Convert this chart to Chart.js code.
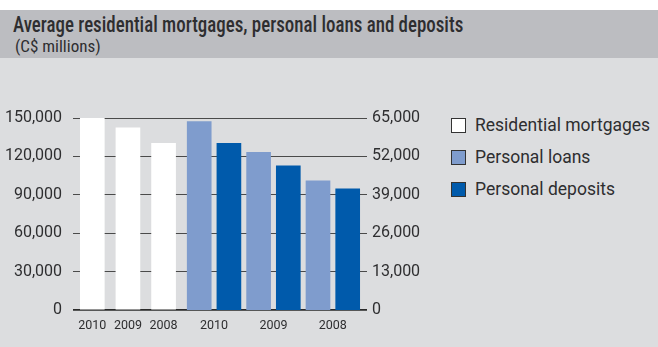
<!DOCTYPE html>
<html lang="en">
<head>
    <meta charset="UTF-8">
    <title>Average residential mortgages, personal loans and deposits</title>
    <script src="https://cdn.jsdelivr.net/npm/chart.js"></script>
    <style>
        body {
            margin: 0;
            width: 658px;
            height: 347px;
            overflow: hidden;
            position: relative;
            background-color: #dcdddf;
            font-family: Roboto, sans-serif;
            color: #2e2e30;
        }
        .strip {
            position: absolute; left: 0; top: 0; width: 658px; height: 10px;
            background-color: #ffffff;
        }
        .band {
            position: absolute; left: 0; top: 10px; width: 658px; height: 48px;
            background-color: #bcbdc1;
        }
        .title {
            position: absolute; left: 13px; top: 14px;
            font-family: "Roboto Condensed", Roboto, sans-serif;
            font-weight: 500; font-size: 22px; line-height: 22px;
            white-space: nowrap;
            transform: scaleX(0.86); transform-origin: left top;
        }
        .subtitle {
            position: absolute; left: 15px; top: 38px;
            font-family: "Roboto Condensed", Roboto, sans-serif;
            font-size: 17px; line-height: 17px;
            white-space: nowrap;
        }
        .chart-box {
            position: absolute; left: 0; top: 58px; width: 440px; height: 289px;
        }
        #legend {
            position: absolute; left: 451px; top: 116px;
            list-style: none; margin: 0; padding: 0;
        }
        #legend li {
            height: 32px; display: flex; align-items: flex-start;
            font-size: 17.5px; line-height: 18px; white-space: nowrap;
        }
        #legend span {
            display: inline-block; width: 13px; height: 13px; margin: 2px 9px 0 0;
            border: 1px solid #333;
        }
    </style>
</head>
<body>

<div class="strip"></div>
<div class="band"></div>
<div class="title">Average residential mortgages, personal loans and deposits</div>
<div class="subtitle">(C$ millions)</div>

<div class="chart-box">
    <canvas id="mortgageChart"></canvas>
</div>
<ul id="legend"></ul>

<script>
    // values, C$ millions
    const years = ['2010', '2009', '2008'];
    const mortgages = [151300, 142400, 130200];   // left axis
    const loans = [63750, 53400, 43750];          // right axis
    const deposits = [56400, 48800, 41000];       // right axis

    const leftTicks = [0, 30000, 60000, 90000, 120000, 150000];
    const rightTicks = [0, 13000, 26000, 39000, 52000, 65000];

    // the x axis is cut into narrow slots so the mortgage bars sit closer
    // together than the loan/deposit pairs, like in the original
    const SLOTS = 99;
    const slotLabels = new Array(SLOTS).fill('');
    const mortSlots = new Array(SLOTS).fill(null);
    const loanSlots = new Array(SLOTS).fill(null);
    const depSlots = new Array(SLOTS).fill(null);

    years.forEach((y, i) => {
        const m = 6 + i * 12;
        mortSlots[m] = mortgages[i];
        slotLabels[m] = y;

        const p = 42 + i * 20;
        loanSlots[p] = loans[i];
        depSlots[p + 10] = deposits[i];
        slotLabels[p + 5] = y;
    });

    const fmt = v => v.toLocaleString('en-US');
    const tickFont = { family: 'Roboto', size: 16 };

    const ctx = document.getElementById('mortgageChart').getContext('2d');
    const chart = new Chart(ctx, {
        type: 'bar',
        data: {
            labels: slotLabels,
            datasets: [
                { label: 'Residential mortgages', data: mortSlots, yAxisID: 'y', backgroundColor: '#ffffff' },
                { label: 'Personal loans', data: loanSlots, yAxisID: 'y1', backgroundColor: '#7f9ccd' },
                { label: 'Personal deposits', data: depSlots, yAxisID: 'y1', backgroundColor: '#005aab' }
            ]
        },
        options: {
            responsive: true,
            maintainAspectRatio: false,
            animation: false,
            layout: { padding: { top: 60, bottom: 16, left: 0, right: 0 } },
            datasets: { bar: { grouped: false, barThickness: 24, borderWidth: 0 } },
            plugins: {
                legend: { display: false },
                tooltip: { enabled: false }
            },
            scales: {
                x: {
                    grid: { display: false, drawTicks: false },
                    border: { display: false },
                    ticks: {
                        autoSkip: false, maxRotation: 0, padding: 8,
                        color: '#2e2e30', font: { family: 'Roboto', size: 12.5 }
                    },
                    afterFit: s => { s.height = 21; }
                },
                y: {
                    position: 'left',
                    min: 0, max: 150000,
                    afterBuildTicks: s => { s.ticks = leftTicks.map(v => ({ value: v })); },
                    grid: {
                        drawTicks: false,
                        color: c => c.tick && c.tick.value === 0 ? '#2a2a2a' : '#4a4a4a',
                        lineWidth: c => c.tick && c.tick.value === 0 ? 1.8 : 1
                    },
                    border: { display: false },
                    ticks: { padding: 11, color: '#2e2e30', font: tickFont, callback: fmt },
                    afterFit: s => { s.width = 73; }
                },
                y1: {
                    position: 'right',
                    min: 0, max: 65000,
                    afterBuildTicks: s => { s.ticks = rightTicks.map(v => ({ value: v })); },
                    grid: { display: false, drawOnChartArea: false, drawTicks: false },
                    border: { display: false },
                    ticks: { padding: 5, color: '#2e2e30', font: tickFont, callback: fmt },
                    afterFit: s => { s.width = 73; }
                }
            }
        }
    });

    // legend built from the chart's own datasets
    const legend = document.getElementById('legend');
    chart.data.datasets.forEach(ds => {
        const li = document.createElement('li');
        const box = document.createElement('span');
        box.style.backgroundColor = ds.backgroundColor;
        li.appendChild(box);
        li.appendChild(document.createTextNode(ds.label));
        legend.appendChild(li);
    });
</script>

</body>
</html>
